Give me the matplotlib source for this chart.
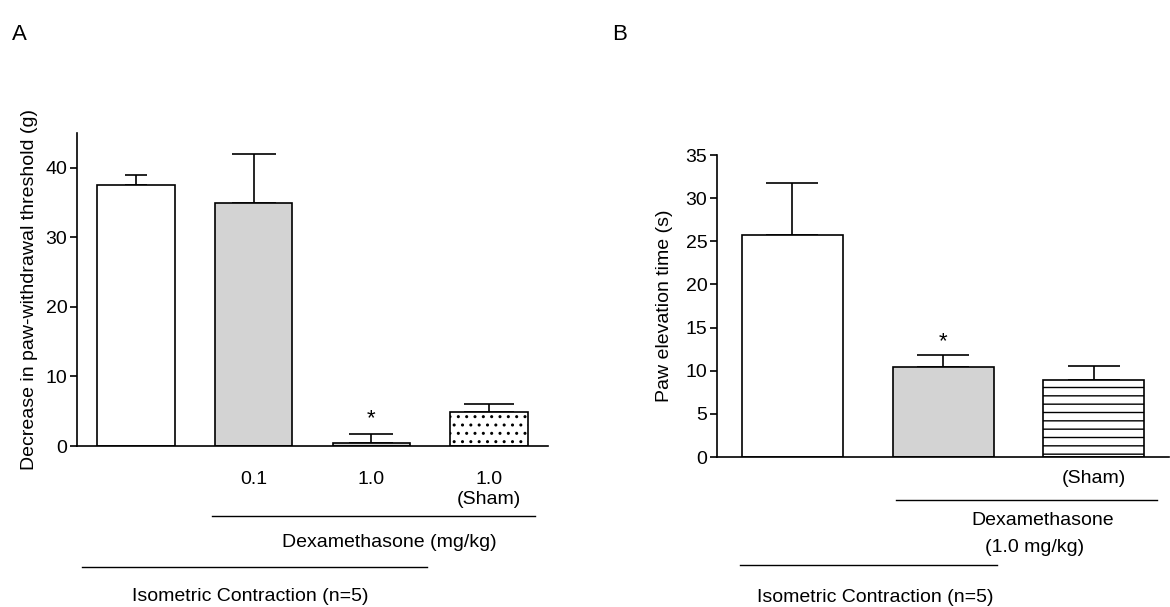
import matplotlib
matplotlib.use("Agg")
import matplotlib.pyplot as plt

plt.rcParams['font.family'] = ['Liberation Sans', 'DejaVu Sans']
plt.rcParams['hatch.linewidth'] = 1.0

# panel A data
a_means = [37.5, 35.0, 0.4, 4.9]
a_errs = [1.5, 7.0, 1.4, 1.2]
a_colors = ['white', '#d3d3d3', '#d3d3d3', 'white']
a_hatches = ['', '', '', '..']
a_ticklabels = ['', '0.1', '1.0', '1.0\n(Sham)']
a_yticks = [0, 10, 20, 30, 40]

# panel B data
b_means = [25.7, 10.4, 8.9]
b_errs = [6.1, 1.4, 1.7]
b_colors = ['white', '#d3d3d3', 'white']
b_hatches = ['', '', '--']
b_ticklabels = ['', '', '(Sham)']
b_yticks = [0, 5, 10, 15, 20, 25, 30, 35]

FS = 14

fig = plt.figure(figsize=(11.7, 6.07), dpi=100)
axA = fig.add_axes([0.0658, 0.2652, 0.4026, 0.5157])
axB = fig.add_axes([0.6128, 0.2471, 0.3865, 0.4975])


def draw_bars(ax, means, errs, colors, hatches, width, caps):
    xs = list(range(len(means)))
    ax.bar(xs, means, width=width, color=colors, edgecolor='black',
           linewidth=1.2, hatch=hatches, zorder=2)
    for x, m, e, c in zip(xs, means, errs, caps):
        ax.errorbar(x, m, yerr=[[0], [e]], fmt='none', ecolor='black',
                    elinewidth=1.2, capsize=c, capthick=1.2, zorder=1)
    for s in ['top', 'right']:
        ax.spines[s].set_visible(False)
    for s in ['left', 'bottom']:
        ax.spines[s].set_linewidth(1.2)
    ax.tick_params(axis='y', length=5, width=1.2, labelsize=FS, pad=2)
    ax.tick_params(axis='x', length=0, labelsize=FS)


def bracket(ax, x0, x1, y):
    ax.plot([x0, x1], [y, y], color='black', lw=1.0,
            transform=ax.get_xaxis_transform(), clip_on=False)


# ---- panel A
draw_bars(axA, a_means, a_errs, a_colors, a_hatches, 0.66, [7.6, 15.8, 15.8, 18])
axA.set_xlim(-0.5, 3.5)
axA.set_ylim(0, 45)
axA.set_yticks(a_yticks)
axA.set_xticks(range(len(a_ticklabels)))
axA.set_xticklabels(a_ticklabels)
axA.tick_params(axis='x', pad=18)
axA.set_ylabel('Decrease in paw-withdrawal threshold (g)', fontsize=FS, labelpad=5)
axA.text(2, 2.4, '*', ha='center', va='bottom', fontsize=16)
tA = axA.get_xaxis_transform()
bracket(axA, 0.65, 3.39, -0.224)
axA.text(2.15, -0.307, 'Dexamethasone (mg/kg)', transform=tA,
         ha='center', va='center', fontsize=FS)
bracket(axA, -0.46, 2.47, -0.387)
axA.text(0.97, -0.482, 'Isometric Contraction (n=5)', transform=tA,
         ha='center', va='center', fontsize=FS)

# ---- panel B
draw_bars(axB, b_means, b_errs, b_colors, b_hatches, 0.67, [18.7, 18.7, 18.7])
axB.set_xlim(-0.5, 2.5)
axB.set_ylim(0, 35)
axB.set_yticks(b_yticks)
axB.set_xticks(range(len(b_ticklabels)))
axB.set_xticklabels(b_ticklabels)
axB.tick_params(axis='x', pad=9)
axB.set_ylabel('Paw elevation time (s)', fontsize=FS, labelpad=9)
axB.text(1, 12.2, '*', ha='center', va='bottom', fontsize=16)
tB = axB.get_xaxis_transform()
bracket(axB, 0.69, 2.42, -0.142)
axB.text(1.66, -0.209, 'Dexamethasone', transform=tB,
         ha='center', va='center', fontsize=FS)
axB.text(1.61, -0.298, '(1.0 mg/kg)', transform=tB,
         ha='center', va='center', fontsize=FS)
bracket(axB, -0.35, 1.36, -0.358)
axB.text(0.55, -0.464, 'Isometric Contraction (n=5)', transform=tB,
         ha='center', va='center', fontsize=FS)

fig.text(12 / 1170, 1 - 35 / 607, 'A', fontsize=16, ha='left', va='center')
fig.text(612 / 1170, 1 - 35 / 607, 'B', fontsize=16, ha='left', va='center')

fig.savefig('out.png', dpi=100)
